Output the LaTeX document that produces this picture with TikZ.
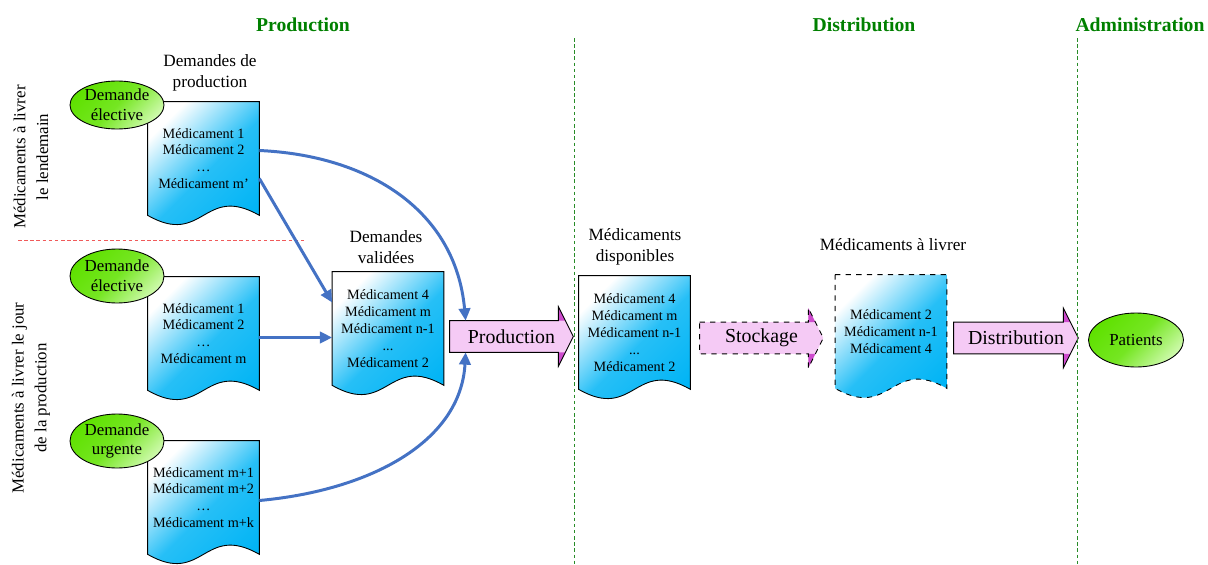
\documentclass[tikz,border=0pt]{standalone}
\usepackage{fontspec}
\setmainfont{Liberation Serif}
\usetikzlibrary{calc,backgrounds,arrows.meta,shapes.geometric}
\newdimen\px \px=0.02cm
\definecolor{docblue}{RGB}{0,180,245}
\definecolor{elgreen}{RGB}{95,225,0}
\definecolor{ellight}{RGB}{205,250,170}
\definecolor{apink}{RGB}{245,202,245}
\definecolor{adark}{RGB}{205,75,205}
\definecolor{connblue}{RGB}{68,114,196}
\definecolor{titlegreen}{RGB}{0,128,0}
\definecolor{sepgreen}{RGB}{40,140,40}
\definecolor{sepred}{RGB}{240,90,90}
\tikzset{
  docbox/.style={minimum width=111\px, minimum height=113\px, inner sep=0pt, align=center, font=\fontsize{8.1}{9.6}\selectfont},
  docfill/.style={draw=black, line width=0.5pt, top color=white, bottom color=docblue, middle color=docblue!85!white, shading angle=45},
  ell/.style={ellipse, draw=black, line width=0.5pt, minimum width=94\px, minimum height=50\px, inner sep=0pt, align=center, font=\fontsize{9.6}{11.3}\selectfont, top color=elgreen, bottom color=ellight, middle color=elgreen!80!ellight, shading angle=45},
  hdr/.style={align=center, inner sep=0pt, font=\fontsize{9.8}{11.8}\selectfont},
  sidelabel/.style={align=center, inner sep=0pt, font=\fontsize{9.6}{13}\selectfont},
  titlelbl/.style={inner sep=0pt, text=titlegreen, font=\fontsize{11.2}{13}\selectfont\bfseries},
  arrowtxt/.style={minimum height=31\px, inner sep=0pt, font=\fontsize{11.3}{13}\selectfont},
  arrowline/.style={draw=black, line width=0.5pt},
  connector/.style={draw=connblue, line width=1.7pt, -{Triangle[length=7pt,width=6.5pt]}},
  sepline/.style={draw=sepgreen, line width=0.5pt, dash pattern=on 2pt off 1.5pt},
  redline/.style={draw=sepred, line width=0.5pt, dash pattern=on 2pt off 1.5pt},
}
\newcommand\docpath[2][]{%
  \begin{scope}[on background layer]
    \path[docfill,#1] (#2.north west) -- (#2.north east) -- (#2.south east)
      .. controls ($(#2.south)+(0,-32)$) and ($(#2.south)+(0,32)$) .. (#2.south west) -- cycle;
  \end{scope}}
\newcommand\arrowpath[2][]{%
  \begin{scope}[on background layer]
    \fill[apink] (#2.north west) -- ($(#2.north east)+(-15,0)$) -- ($(#2.north east)+(-15,-14)$) -- (#2.east)
      -- ($(#2.south east)+(-15,14)$) -- ($(#2.south east)+(-15,0)$) -- (#2.south west) -- cycle;
    \fill[adark] ($(#2.north east)+(-15,-14)$) -- ($(#2.north east)+(-15,0)$) -- ($(#2.north east)+(-8,0)$) -- cycle;
    \fill[adark] ($(#2.south east)+(-15,14)$) -- ($(#2.south east)+(-15,0)$) -- ($(#2.south east)+(-8,0)$) -- cycle;
    \draw[arrowline,#1] (#2.north west) -- ($(#2.north east)+(-15,0)$) -- ($(#2.north east)+(-15,-14)$) -- (#2.east)
      -- ($(#2.south east)+(-15,14)$) -- ($(#2.south east)+(-15,0)$) -- (#2.south west) -- cycle;
  \end{scope}}
\begin{document}
\begin{tikzpicture}[x=0.02cm, y=-0.02cm]
\useasboundingbox (0,0) rectangle (1208,565);

% titles
\node[titlelbl] (tprod) at (303,25) {Production};
\node[titlelbl] (tdist) at (864,25) {Distribution};
\node[titlelbl] (tadm) at (1140,25) {Administration};

% separators
\draw[sepline] (574,38) -- (574,565);
\draw[sepline] (1077,38) -- (1077,565);
\draw[redline] (18,240) -- (305,240);

% side labels
\node[sidelabel, rotate=90] (l1) at (31,157) {Médicaments à livrer\\le lendemain};
\node[sidelabel, rotate=90] (l2) at (31,398) {Médicaments à livrer le jour\\de la production};

% headers
\node[hdr] (h1) at (210,73) {Demandes de\\production};
\node[hdr] (h2) at (386,247) {Demandes\\validées};
\node[hdr] (h3) at (635,247) {Médicaments\\disponibles};
\node[hdr] (h4) at (893,245) {Médicaments à livrer};

% documents
\node[docbox] (d1) at (203.5,158.5) {Médicament 1\\Médicament 2\\…\\Médicament m'};
\docpath{d1}
\node[docbox] (d2) at (203.5,333.5) {Médicament 1\\Médicament 2\\…\\Médicament m};
\docpath{d2}
\node[docbox] (d3) at (203.5,497.5) {Médicament m+1\\Médicament m+2\\…\\Médicament m+k};
\docpath{d3}
\node[docbox] (dv) at (388,328.5) {Médicament 4\\Médicament m\\Médicament n-1\\...\\Médicament 2};
\docpath{dv}
\node[docbox] (dd) at (634.5,332.5) {Médicament 4\\Médicament m\\Médicament n-1\\...\\Médicament 2};
\docpath{dd}
\node[docbox] (dl) at (891,331.5) {Médicament 2\\Médicament n-1\\Médicament 4};
\docpath[dashed]{dl}

% ellipses
\node[ell, minimum height=48\px] (e1) at (117,105) {Demande\\élective};
\node[ell, minimum height=54\px] (e2) at (117,276) {Demande\\élective};
\node[ell, minimum height=54\px] (e3) at (117,441) {Demande\\urgente};
\node[ell, minimum width=95\px, minimum height=54\px] (pat) at (1136,340) {Patients};

% block arrows
\node[arrowtxt, minimum width=123\px] (pa) at (511.5,336.5) {Production};
\arrowpath{pa}
\node[arrowtxt, minimum width=123\px] (sa) at (761.5,338) {Stockage};
\arrowpath[dashed]{sa}
\node[arrowtxt, minimum width=124\px] (da) at (1016,338) {Distribution};
\arrowpath{da}

% connectors
\draw[connector] ($(d1.east)+(0,-8)$) .. controls +(110,5) and +(-10,-110) .. ($(pa.north west)+(16,0)$);
\draw[connector] ($(d1.east)+(0,20)$) -- ($(dv.west)+(0,-26)$);
\coordinate (s3) at ($(d2.east)+(0,4)$);
\draw[connector] (s3) -- (s3 -| dv.west);
\draw[connector] ($(d3.east)+(0,3)$) .. controls +(110,-10) and +(-5,90) .. ($(pa.south west)+(16,0)$);
\end{tikzpicture}
\end{document}
